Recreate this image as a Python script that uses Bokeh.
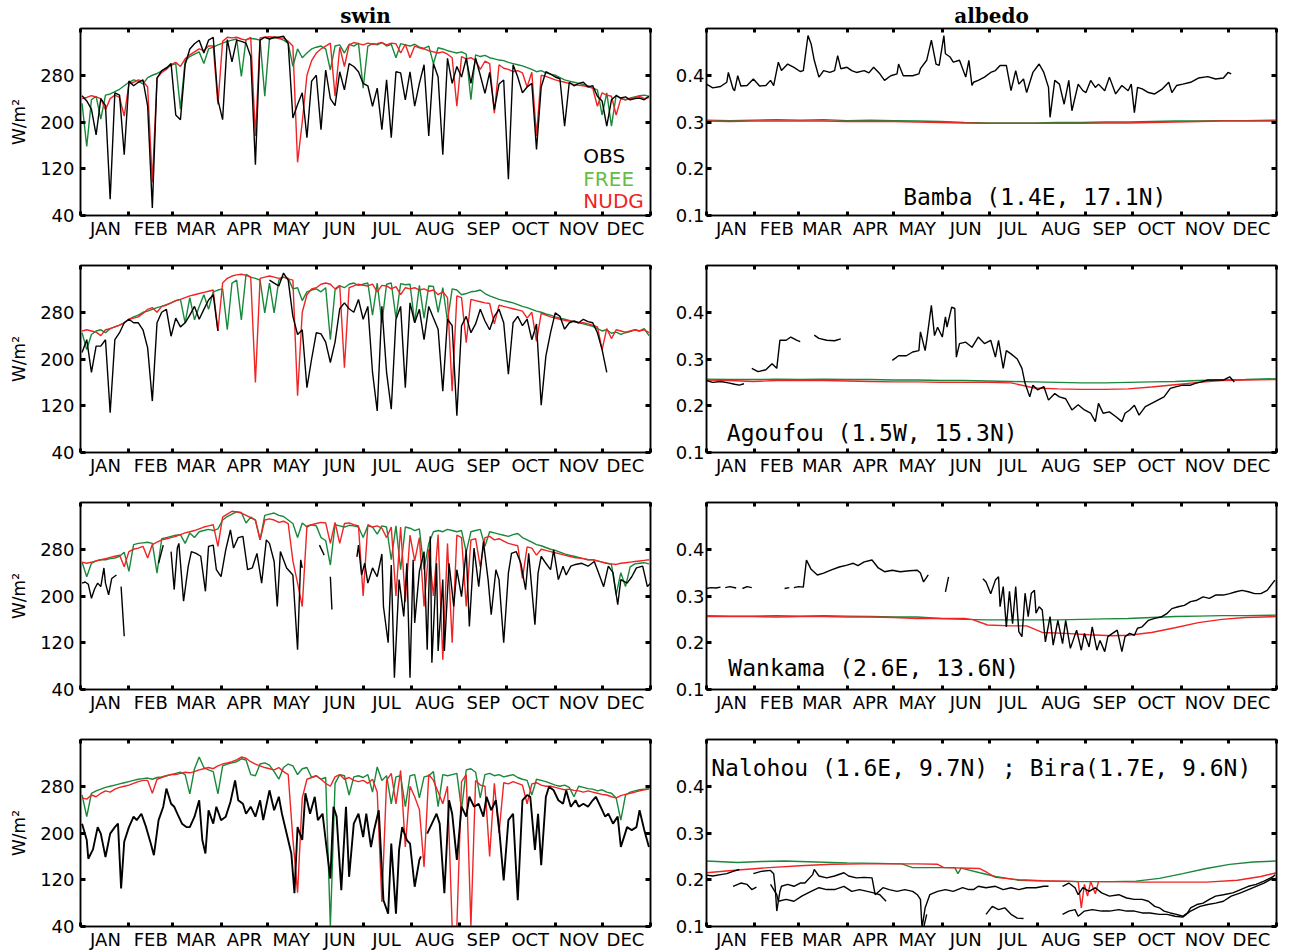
import numpy as np
from bokeh.plotting import figure
from bokeh.layouts import column, row
from bokeh.models import FixedTicker, LinearAxis, Range1d, PrintfTickFormatter
from bokeh.core.properties import value
from bokeh.embed import file_html
from bokeh.resources import INLINE

nan = float("nan")

# ---------------------------------------------------------------- calendar / ticks
MONTHS = ["JAN", "FEB", "MAR", "APR", "MAY", "JUN",
          "JUL", "AUG", "SEP", "OCT", "NOV", "DEC"]
MONTH_EDGES = [0, 31, 59, 90, 120, 151, 181, 212, 243, 273, 304, 334, 365]
MONTH_MIDS = [16, 45, 74, 105, 135, 166, 196, 227, 258, 288, 319, 349]
SWIN_TICKS = [40, 120, 200, 280]
ALBEDO_TICKS = [0.1, 0.2, 0.3, 0.4]

# every third day of the year (model output and some station series)
DAYS3 = list(range(1, 366, 3))

# ---------------------------------------------------------------- swin, Bamba
bamba_swin_obs = [
    245, 236, 222, 178, 240, 228, 68, 250, 246, 144,
    270, 262, 268, 272, 227, 53, 275, 288, 292, 300,
    212, 204, 298, 325, 334, 340, 318, 340, 345, 238,
    204, 341, 303, 340, 338, 335, 312, 127, 340, 345,
    342, 345, 345, 347, 334, 207, 230, 250, 173, 270,
    280, 187, 289, 240, 228, 286, 255, 300, 295, 286,
    266, 262, 227, 258, 187, 272, 173, 286, 284, 238,
    286, 227, 266, 298, 176, 300, 277, 144, 309, 266,
    295, 277, 309, 266, 309, 280, 249, 285, 221, 265,
    272, 102, 298, 277, 250, 260, 266, 153, 260, 286,
    282, 277, 274, 193, 268, 262, 266, 268, 260, 262,
    244, 236, 193, 238, 245, 241, 243, 238, 240, 241,
    238, 244]
bamba_swin_free = [
    232, 158, 238, 244, 205, 246, 248, 252, 256, 262,
    268, 272, 270, 265, 276, 280, 283, 287, 293, 297,
    300, 222, 305, 312, 316, 320, 300, 325, 328, 332,
    335, 338, 340, 342, 278, 341, 343, 342, 340, 244,
    342, 344, 343, 340, 335, 295, 325, 310, 318, 325,
    328, 330, 325, 289, 330, 332, 318, 333, 330, 335,
    258, 330, 334, 332, 336, 330, 333, 310, 334, 332,
    330, 333, 328, 326, 330, 300, 327, 325, 322, 320,
    318, 320, 316, 238, 315, 312, 314, 310, 308, 306,
    305, 302, 300, 298, 296, 293, 290, 286, 288, 284,
    282, 280, 276, 272, 270, 268, 266, 264, 262, 258,
    255, 212, 250, 193, 246, 240, 238, 241, 243, 245,
    246, 244]
bamba_swin_nudg = [
    240, 242, 245, 243, 240, 221, 240, 246, 242, 210,
    265, 268, 272, 270, 260, 97, 275, 285, 290, 298,
    302, 295, 308, 315, 320, 325, 322, 330, 330, 230,
    338, 345, 344, 345, 342, 340, 345, 176, 344, 345,
    346, 345, 343, 344, 338, 330, 131, 200, 280, 305,
    318, 325, 330, 335, 244, 328, 295, 332, 336, 334,
    332, 335, 333, 334, 336, 332, 335, 334, 318, 333,
    310, 330, 327, 325, 322, 320, 318, 320, 316, 310,
    227, 312, 308, 310, 305, 290, 304, 300, 215, 298,
    292, 290, 286, 288, 284, 260, 285, 176, 280, 278,
    275, 272, 270, 268, 266, 264, 263, 262, 260, 258,
    227, 250, 246, 244, 212, 240, 238, 240, 242, 244,
    240, 242]

# ---------------------------------------------------------------- swin, Agoufou
agoufou_swin_obs = [
    211, 233, 177, 222, 222, 233, 108, 233, 245, 262,
    268, 262, 262, 250, 219, 128, 262, 280, 285, 239,
    270, 255, 262, 275, 290, 268, 285, 301, 310, 248,
    nan, nan, nan, nan, nan, nan, nan, nan, nan, nan,
    335, 330, 325, 347, 335, 273, 242, 250, 151, 200,
    245, 243, 229, 194, 229, 286, 296, 286, 280, 302,
    268, 290, 177, 111, 290, 177, 114, 268, 290, 151,
    296, 262, 285, 233, 290, 270, 251, 145, 268, 257,
    103, 257, 273, 245, 260, 285, 265, 250, 273, 285,
    262, 174, 262, 273, 257, 268, 233, 260, 121, 205,
    245, 279, 273, 251, 262, 265, 262, 268, 264, 262,
    245, 216, 177, nan, nan, nan, nan, nan, nan, nan,
    nan, nan]
agoufou_swin_free = [
    245, 216, 242, 248, 250, 245, 252, 255, 258, 262,
    268, 272, 275, 280, 282, 285, 288, 290, 293, 296,
    300, 302, 262, 305, 267, 290, 310, 285, 315, 318,
    320, 250, 330, 335, 267, 345, 340, 338, 335, 279,
    330, 279, 335, 340, 338, 320, 322, 300, 315, 318,
    320, 315, 322, 233, 318, 325, 322, 328, 330, 326,
    328, 330, 275, 330, 262, 328, 330, 270, 329, 327,
    328, 262, 326, 270, 325, 324, 280, 322, 265, 320,
    318, 310, 312, 315, 316, 318, 312, 308, 305, 302,
    300, 298, 296, 293, 290, 288, 285, 282, 280, 277,
    275, 272, 270, 268, 266, 264, 262, 260, 258, 256,
    252, 248, 250, 244, 246, 242, 245, 247, 250, 248,
    252, 240]
agoufou_swin_nudg = [
    248, 250, 248, 246, 240, 250, 252, 255, 258, 262,
    268, 270, 272, 278, 285, 288, 280, 290, 292, 296,
    300, 302, 305, 308, 310, 312, 314, 316, 318, 248,
    330, 338, 342, 344, 345, 343, 340, 160, 338, 340,
    342, 340, 338, 340, 337, 335, 137, 280, 310, 320,
    322, 328, 330, 328, 320, 326, 185, 322, 325, 328,
    326, 325, 328, 315, 326, 325, 320, 324, 310, 322,
    320, 322, 318, 320, 316, 318, 310, 315, 305, 145,
    308, 305, 228, 302, 300, 298, 296, 295, 260, 292,
    290, 288, 286, 284, 282, 270, 280, 230, 278, 275,
    272, 270, 268, 266, 265, 264, 262, 262, 260, 258,
    255, 216, 252, 235, 250, 248, 246, 248, 250, 248,
    250, 245]

# ---------------------------------------------------------------- swin, Wankama
wankama_swin_obs = [
    (1, 222), (3, 224), (5, 220), (7, 196), (9, 212), (11, 222), (13, 216),
    (15, 248), (16, 222), (18, 202), (20, 230), (23, 236), (24, nan),
    (26, 216), (28, 131), (29, nan), (50, 256), (53, 287), (55, nan),
    (58, 276), (60, 211), (62, 282), (63, 290), (66, 191), (69, 251),
    (71, 276), (74, 273), (77, 268), (80, 208), (82, 285), (85, 287),
    (87, 245), (90, 233), (93, 279), (96, 313), (98, 282), (101, 300),
    (104, 302), (107, 245), (110, 248), (113, 273), (116, 222), (119, 296),
    (121, 290), (124, 259), (126, 182), (128, 276), (132, 248), (136, 236),
    (139, 108), (141, 262), (142, 248), (143, nan), (153, 287), (155, 276),
    (156, 270), (157, nan), (160, 233), (161, 177), (162, nan), (177, 267),
    (178, 287), (180, 236), (182, 256), (184, 222), (187, 248), (190, 233),
    (193, 272), (194, 182), (197, 120), (199, 253), (201, 60), (204, 228),
    (207, 165), (209, 256), (211, 60), (213, 262), (214, 154), (217, 242),
    (220, 276), (222, 108), (224, 302), (225, 86), (228, 256), (229, 106),
    (232, 228), (233, 106), (236, 256), (239, 182), (241, 245), (244, 199),
    (247, 279), (249, 148), (252, 282), (255, 216), (258, 293), (261, 228),
    (263, 168), (266, 245), (268, 228), (271, 120), (274, 239), (276, 273),
    (279, 276), (282, 256), (285, 211), (287, 273), (291, 151), (293, 239),
    (295, 268), (298, 256), (301, 245), (303, 279), (306, 228), (309, 251),
    (311, 236), (314, 251), (317, 254), (321, 256), (325, 251), (329, 259),
    (331, 245), (335, 216), (338, 251), (341, 240), (344, 185), (346, 228),
    (350, 222), (353, 233), (356, 248), (360, 251), (363, 216), (365, 222)]
wankama_swin_free = [
    258, 233, 256, 260, 262, 262, 264, 265, 268, 275,
    242, 288, 290, 291, 292, 290, 239, 298, 300, 302,
    304, 305, 290, 308, 300, 310, 312, 314, 312, 315,
    330, 336, 340, 344, 343, 325, 335, 330, 296, 338,
    340, 342, 338, 336, 330, 324, 300, 325, 318, 322,
    320, 300, 295, 253, 322, 320, 318, 321, 320, 318,
    300, 320, 318, 306, 320, 318, 262, 320, 245, 318,
    316, 312, 315, 245, 290, 310, 312, 310, 314, 312,
    310, 312, 275, 310, 312, 314, 285, 310, 308, 306,
    304, 302, 305, 307, 300, 296, 292, 288, 286, 283,
    280, 278, 275, 272, 270, 268, 266, 264, 262, 262,
    260, 258, 256, 254, 202, 240, 216, 250, 255, 256,
    257, 255]
wankama_swin_nudg = [
    258, 256, 258, 260, 262, 264, 266, 268, 270, 250,
    276, 280, 282, 285, 265, 288, 292, 296, 298, 300,
    302, 305, 308, 310, 312, 315, 318, 320, 322, 285,
    335, 340, 345, 344, 342, 338, 334, 330, 296, 330,
    332, 330, 326, 328, 324, 260, 222, 182, 320, 322,
    324, 326, 325, 290, 326, 290, 324, 325, 322, 320,
    200, 322, 318, 320, 316, 300, 318, 200, 318, 190,
    304, 260, 300, 182, 280, 200, 305, 91, 290, 120,
    304, 300, 182, 296, 298, 250, 300, 302, 296, 298,
    294, 290, 288, 286, 230, 284, 282, 270, 280, 278,
    276, 274, 272, 270, 268, 266, 265, 264, 262, 262,
    260, 258, 256, 255, 254, 256, 257, 258, 259, 260,
    261, 262]

# ---------------------------------------------------------------- swin, Nalohou / Bira
nalohou_swin_obs = [
    (1, 216), (4, 188), (5, 156), (8, 172), (11, 210), (13, 199), (16, 159),
    (19, 199), (22, 210), (24, 216), (26, 105), (28, 185), (31, 210),
    (34, 228), (36, 222), (39, 233), (42, 210), (45, 182), (47, 162),
    (50, 222), (53, 245), (55, 276), (58, 250), (60, 245), (62, 233),
    (65, 216), (68, 210), (70, 210), (73, 228), (76, 256), (78, 188),
    (80, 165), (82, 239), (85, 216), (87, 245), (90, 222), (93, 228),
    (96, 253), (99, 290), (101, 256), (104, 250), (106, 233), (109, 245),
    (112, 228), (115, 256), (117, 222), (121, 273), (124, 239), (127, 262),
    (129, 233), (132, 199), (135, 165), (137, 97), (139, 210), (142, 188),
    (144, 268), (147, 233), (150, 262), (152, 222), (155, 233), (158, 165),
    (160, 122), (162, 245), (164, 228), (167, 102), (170, 245), (172, 125),
    (175, 216), (178, 233), (181, 193), (183, 233), (186, 176), (188, 205),
    (191, 239), (194, 85), (197, 62), (199, 182), (202, 62), (204, 171),
    (206, 210), (209, 188), (211, 182), (214, 108), (217, 154), (218, 160),
    (220, nan), (222, 199), (225, 216), (228, 233), (230, 216), (233, 97),
    (236, 256), (238, 233), (241, 154), (244, 245), (247, 228), (249, 262),
    (252, 245), (255, 250), (258, 228), (260, 262), (263, 239), (266, 256),
    (268, 210), (271, 119), (274, 222), (277, 233), (280, 85), (283, 256),
    (286, 265), (288, 262), (291, 171), (293, 233), (295, 145), (298, 262),
    (300, 279), (303, 273), (306, 256), (309, 250), (311, 273), (314, 245),
    (317, 256), (319, 245), (322, 250), (325, 245), (328, 256), (330, 262),
    (333, 245), (336, 228), (338, 233), (341, 216), (344, 228), (346, 176),
    (348, 193), (350, 210), (353, 205), (356, 210), (358, 239), (361, 205),
    (364, 176)]
nalohou_swin_free = [
    265, 228, 268, 272, 275, 278, 280, 282, 284, 286,
    288, 290, 292, 293, 294, 292, 295, 296, 298, 300,
    302, 304, 300, 267, 310, 330, 312, 308, 305, 267,
    315, 318, 320, 322, 327, 325, 300, 298, 318, 320,
    316, 305, 292, 312, 318, 315, 300, 310, 312, 295,
    298, 292, 295, 40, 285, 300, 298, 265, 296, 298,
    295, 300, 270, 313, 290, 298, 250, 296, 298, 245,
    298, 300, 260, 296, 298, 305, 245, 300, 298, 300,
    302, 240, 308, 310, 304, 260, 300, 302, 298, 300,
    296, 298, 300, 295, 292, 290, 265, 292, 290, 288,
    285, 282, 280, 282, 278, 262, 280, 278, 276, 275,
    272, 274, 270, 268, 260, 222, 265, 270, 272, 274,
    275, 276]
nalohou_swin_nudg = [
    260, 258, 265, 262, 268, 272, 270, 275, 278, 280,
    282, 285, 288, 290, 290, 268, 292, 295, 298, 300,
    300, 302, 304, 303, 305, 308, 310, 312, 310, 315,
    318, 320, 322, 325, 330, 328, 322, 318, 315, 312,
    310, 308, 312, 305, 300, 190, 98, 260, 292, 295,
    298, 292, 285, 280, 296, 300, 292, 295, 290, 288,
    290, 285, 292, 270, 82, 290, 302, 250, 307, 176,
    280, 262, 240, 142, 300, 290, 270, 250, 280, 40,
    40, 288, 300, 40, 290, 282, 280, 160, 285, 200,
    286, 284, 288, 285, 282, 250, 284, 286, 282, 280,
    280, 278, 276, 274, 275, 273, 272, 270, 272, 270,
    268, 266, 265, 262, 260, 264, 266, 268, 270, 272,
    274, 275]

# ---------------------------------------------------------------- albedo, models
ALB_DAYS = [0, 15, 30, 45, 60, 75, 90, 105, 120, 135, 150, 165, 180,
            195, 210, 225, 240, 255, 270, 285, 300, 315, 330, 345, 365]
bamba_alb_free = [0.304, 0.303, 0.304, 0.305, 0.304, 0.305, 0.303, 0.304, 0.303,
                  0.302, 0.301, 0.299, 0.298, 0.298, 0.298, 0.299, 0.299, 0.300,
                  0.300, 0.301, 0.302, 0.302, 0.303, 0.303, 0.304]
bamba_alb_nudg = [0.302, 0.301, 0.302, 0.302, 0.302, 0.302, 0.301, 0.301, 0.301,
                  0.300, 0.299, 0.298, 0.297, 0.297, 0.297, 0.297, 0.297, 0.298,
                  0.298, 0.299, 0.300, 0.301, 0.302, 0.302, 0.302]
agoufou_alb_free = [0.257, 0.256, 0.256, 0.257, 0.256, 0.257, 0.256, 0.256, 0.255,
                    0.255, 0.254, 0.254, 0.253, 0.252, 0.251, 0.250, 0.249, 0.249,
                    0.250, 0.251, 0.252, 0.254, 0.255, 0.256, 0.258]
agoufou_alb_nudg = [0.255, 0.254, 0.252, 0.254, 0.254, 0.254, 0.253, 0.252, 0.251,
                    0.251, 0.250, 0.250, 0.250, 0.249, 0.238, 0.236, 0.235, 0.235,
                    0.236, 0.240, 0.245, 0.250, 0.254, 0.255, 0.256]
wankama_alb_free = [0.258, 0.257, 0.257, 0.258, 0.257, 0.258, 0.257, 0.256, 0.255,
                    0.255, 0.252, 0.250, 0.249, 0.249, 0.249, 0.249, 0.250, 0.251,
                    0.252, 0.254, 0.256, 0.257, 0.258, 0.258, 0.259]
wankama_alb_nudg = [(0, 0.256), (15, 0.256), (30, 0.256), (45, 0.255), (60, 0.256),
                    (75, 0.256), (90, 0.255), (105, 0.255), (120, 0.254), (135, 0.252),
                    (150, 0.252), (165, 0.252), (170, 0.250), (180, 0.238), (195, 0.236),
                    (205, 0.236), (215, 0.222), (230, 0.220), (245, 0.217), (260, 0.215),
                    (270, 0.216), (285, 0.222), (300, 0.232), (315, 0.243), (330, 0.250),
                    (345, 0.254), (365, 0.256)]
nalohou_alb_free = [(0, 0.240), (20, 0.237), (35, 0.239), (50, 0.240), (70, 0.238),
                    (90, 0.236), (110, 0.235), (125, 0.234), (132, 0.226), (150, 0.226),
                    (159, 0.226), (161, 0.213), (163, 0.225), (175, 0.215), (185, 0.207),
                    (200, 0.199), (220, 0.197), (240, 0.196), (260, 0.196), (275, 0.197),
                    (290, 0.203), (305, 0.213), (320, 0.224), (335, 0.233), (350, 0.238),
                    (365, 0.240)]
nalohou_alb_nudg = [(0, 0.215), (20, 0.221), (40, 0.226), (60, 0.230), (80, 0.233),
                    (100, 0.234), (120, 0.234), (135, 0.234), (148, 0.233), (152, 0.226),
                    (175, 0.224), (180, 0.215), (185, 0.205), (200, 0.200), (215, 0.198),
                    (230, 0.197), (238, 0.196), (240, 0.140), (242, 0.190), (244, 0.165),
                    (246, 0.196), (249, 0.170), (251, 0.196), (260, 0.196), (280, 0.195),
                    (300, 0.195), (320, 0.195), (340, 0.199), (355, 0.207), (365, 0.215)]

# ---------------------------------------------------------------- albedo, stations
bamba_alb_obs = [
    (0, 0.381), (4, 0.373), (9, 0.376), (13, 0.385), (14, 0.406), (17, 0.371),
    (18, 0.367), (20, 0.399), (22, 0.377), (26, 0.378), (30, 0.392), (34, 0.377),
    (38, 0.378), (41, 0.389), (43, 0.378), (46, 0.428), (48, 0.410), (52, 0.424),
    (56, 0.417), (60, 0.408), (62, 0.410), (65, 0.485), (67, 0.467), (69, 0.432),
    (72, 0.396), (75, 0.410), (79, 0.406), (82, 0.410), (84, 0.442), (86, 0.414),
    (90, 0.417), (93, 0.410), (96, 0.406), (101, 0.410), (104, 0.405), (107, 0.417),
    (111, 0.403), (114, 0.389), (118, 0.399), (122, 0.403), (123, 0.424), (126, 0.399),
    (132, 0.399), (136, 0.403), (137, 0.414), (141, 0.432), (144, 0.475), (147, 0.424),
    (149, 0.421), (152, 0.485), (153, 0.446), (156, 0.439), (158, 0.428), (162, 0.432),
    (166, 0.396), (168, 0.432), (170, 0.378), (171, 0.385), (174, 0.389), (178, 0.396),
    (182, 0.406), (185, 0.410), (188, 0.421), (192, 0.421), (195, 0.367), (198, 0.410),
    (200, 0.381), (203, 0.392), (205, 0.363), (209, 0.406), (213, 0.424), (216, 0.406),
    (219, 0.374), (220, 0.310), (223, 0.389), (226, 0.381), (229, 0.338), (232, 0.389),
    (234, 0.324), (238, 0.381), (241, 0.367), (243, 0.363), (246, 0.389), (249, 0.374),
    (251, 0.381), (255, 0.367), (258, 0.396), (262, 0.360), (266, 0.378), (270, 0.367),
    (272, 0.381), (274, 0.320), (276, 0.374), (279, 0.371), (283, 0.363), (287, 0.360),
    (292, 0.371), (296, 0.385), (298, 0.363), (301, 0.378), (305, 0.381), (310, 0.385),
    (315, 0.394), (321, 0.397), (326, 0.392), (331, 0.394), (334, 0.406), (336, 0.403)]
agoufou_alb_obs = [
    (0, 0.254), (4, 0.250), (9, 0.252), (14, 0.249), (18, 0.246), (21, 0.244),
    (24, 0.247), (26, nan), (29, 0.280), (33, 0.273), (38, 0.277), (42, 0.290),
    (45, 0.280), (47, 0.340), (51, 0.340), (54, 0.347), (58, 0.340), (60, 0.337),
    (63, nan), (69, 0.351), (72, 0.344), (77, 0.340), (82, 0.339), (86, 0.343),
    (90, nan), (119, 0.297), (123, 0.307), (128, 0.307), (132, 0.315), (136, 0.318),
    (137, 0.358), (140, 0.318), (141, 0.340), (144, 0.415), (146, 0.350), (148, 0.368),
    (151, 0.347), (153, 0.390), (154, 0.368), (157, 0.411), (159, 0.408), (160, 0.304),
    (162, 0.333), (166, 0.336), (170, 0.325), (174, 0.347), (178, 0.333), (182, 0.340),
    (185, 0.304), (187, 0.340), (190, 0.280), (192, 0.318), (195, 0.311), (199, 0.300),
    (202, 0.280), (204, 0.248), (207, 0.219), (209, 0.244), (212, 0.234), (216, 0.241),
    (219, 0.212), (223, 0.226), (226, 0.219), (230, 0.215), (234, 0.191), (238, 0.202),
    (242, 0.191), (246, 0.184), (249, 0.166), (251, 0.205), (254, 0.184), (258, 0.187),
    (262, 0.177), (266, 0.166), (268, 0.184), (271, 0.191), (274, 0.201), (277, 0.180),
    (281, 0.198), (285, 0.205), (289, 0.212), (293, 0.219), (297, 0.237), (301, 0.241),
    (305, 0.244), (310, 0.244), (313, 0.248), (317, 0.251), (321, 0.255), (327, 0.255),
    (331, 0.255), (335, 0.262), (338, 0.251)]
wankama_alb_obs = [
    (0, 0.316), (3, 0.318), (6, 0.317), (9, 0.319), (10, nan), (12, 0.318),
    (15, 0.320), (19, 0.317), (20, nan), (23, 0.316), (26, 0.320), (29, 0.318),
    (31, nan), (50, 0.316), (53, 0.318), (55, nan), (56, 0.318), (59, 0.320),
    (62, 0.319), (64, 0.377), (67, 0.357), (71, 0.345), (75, 0.349), (80, 0.356),
    (85, 0.362), (90, 0.366), (94, 0.370), (97, 0.365), (101, 0.373), (106, 0.377),
    (110, 0.360), (114, 0.352), (119, 0.355), (124, 0.352), (130, 0.354), (135, 0.355),
    (137, 0.349), (139, 0.330), (142, 0.345), (143, nan), (153, 0.309), (155, 0.341),
    (156, nan), (177, 0.337), (179, 0.330), (182, 0.305), (185, 0.334), (187, 0.341),
    (188, 0.277), (190, 0.320), (192, 0.234), (194, 0.310), (196, 0.241), (198, 0.320),
    (200, 0.224), (202, 0.213), (204, 0.306), (206, 0.256), (208, 0.306), (210, 0.312),
    (211, 0.263), (213, 0.277), (215, 0.270), (217, 0.202), (220, 0.256), (222, 0.195),
    (225, 0.248), (228, 0.198), (230, 0.248), (233, 0.188), (237, 0.227), (240, 0.184),
    (242, 0.220), (245, 0.191), (247, 0.234), (250, 0.184), (252, 0.205), (255, 0.181),
    (257, 0.213), (260, 0.220), (263, 0.227), (266, 0.181), (268, 0.213), (271, 0.220),
    (274, 0.216), (276, 0.231), (279, 0.234), (283, 0.248), (287, 0.252), (291, 0.255),
    (295, 0.263), (298, 0.273), (302, 0.277), (306, 0.280), (310, 0.288), (314, 0.291),
    (318, 0.298), (322, 0.295), (326, 0.302), (331, 0.302), (335, 0.305), (339, 0.309),
    (343, 0.312), (347, 0.309), (351, 0.305), (355, 0.305), (359, 0.312), (364, 0.334)]
nalohou_alb_obs = [
    (0, 0.210), (4, 0.208), (9, 0.211), (13, 0.213), (17, 0.218), (21, 0.222),
    (23, nan), (30, 0.213), (35, 0.218), (41, 0.220), (43, 0.213), (44, 0.183),
    (45, 0.133), (47, 0.175), (48, 0.186), (52, 0.190), (56, 0.186), (60, 0.193),
    (63, 0.193), (68, 0.211), (69, 0.222), (72, 0.208), (77, 0.204), (82, 0.208),
    (88, 0.215), (91, 0.208), (96, 0.204), (101, 0.205), (106, 0.204), (108, 0.168),
    (113, 0.183), (117, 0.179), (122, 0.175), (127, 0.179), (132, 0.175), (135, 0.168),
    (137, 0.158), (138, 0.097), (140, 0.140), (143, 0.168), (148, 0.175), (153, 0.179),
    (158, 0.175), (164, 0.183), (168, 0.179), (171, 0.179), (174, 0.186), (179, 0.183),
    (185, 0.186), (190, 0.179), (195, 0.183), (200, 0.179), (205, 0.183), (211, 0.183),
    (216, 0.186), (219, 0.186), (222, nan), (228, 0.186), (232, 0.193), (236, 0.183),
    (238, 0.168), (241, 0.183), (245, 0.175), (249, 0.183), (253, 0.172), (258, 0.165),
    (264, 0.168), (269, 0.161), (274, 0.158), (279, 0.158), (283, 0.154), (287, 0.143),
    (290, 0.140), (293, 0.133), (297, 0.129), (301, 0.126), (305, 0.122), (308, 0.129),
    (310, 0.140), (314, 0.147), (318, 0.150), (322, 0.158), (326, 0.165), (331, 0.168),
    (337, 0.172), (342, 0.179), (347, 0.186), (352, 0.190), (357, 0.197), (363, 0.207),
    (364, 0.211)]
bira_alb_obs = [
    (17, 0.186), (22, 0.193), (26, 0.190), (29, 0.179), (32, 0.184), (33, nan),
    (41, 0.190), (45, 0.168), (46, 0.154), (51, 0.158), (56, 0.154), (61, 0.165),
    (67, 0.175), (72, 0.183), (77, 0.179), (82, 0.179), (88, 0.186), (93, 0.175),
    (98, 0.179), (103, 0.175), (107, 0.172), (111, 0.168), (115, 0.154), (116, nan),
    (139, 0.097), (141, 0.126), (142, nan), (179, 0.126), (183, 0.143), (187, 0.136),
    (191, 0.140), (195, 0.126), (199, 0.118), (203, 0.117), (204, nan), (228, 0.126),
    (232, 0.133), (236, 0.136), (238, 0.122), (242, 0.133), (247, 0.136), (253, 0.133),
    (258, 0.133), (264, 0.136), (269, 0.133), (274, 0.133), (279, 0.129), (284, 0.129),
    (290, 0.126), (295, 0.126), (300, 0.122), (305, 0.120), (310, 0.133), (316, 0.143),
    (321, 0.147), (326, 0.150), (331, 0.154), (336, 0.165), (342, 0.172), (347, 0.179),
    (352, 0.186), (357, 0.193), (363, 0.204)]

SITE_LABELS = ["Bamba (1.4E, 17.1N)", "Agoufou (1.5W, 15.3N)",
               "Wankama (2.6E, 13.6N)", "Nalohou (1.6E, 9.7N) ; Bira(1.7E, 9.6N)"]
LEGEND_NAMES = ["OBS", "FREE", "NUDG"]

OBS_COLOR = "#000000"
FREE_COLOR = "#18883a"
NUDG_COLOR = "#f02424"
FREE_TEXT_COLOR = "#66bd44"

TICK_FONT = "DejaVu Sans"
MONO_FONT = "DejaVu Sans Mono"


def split(pairs):
    d, v = zip(*pairs)
    return np.array(d, dtype=float), np.array(v, dtype=float)


def grid(vals):
    return np.array(DAYS3, dtype=float), np.array(vals, dtype=float)


def make_panel(kind, row_idx, title=None):
    left = kind == "swin"
    top = 28 if row_idx == 0 else 22
    bottom = 26 if row_idx == 3 else 28
    p = figure(width=666 if left else 626, height=top + 187 + bottom,
               x_range=Range1d(0, 365),
               y_range=Range1d(40, 360) if left else Range1d(0.1, 0.5),
               x_axis_type=None, y_axis_type=None, tools="",
               toolbar_location=None, output_backend="svg", title=title,
               min_border_left=80 if left else 40, min_border_right=16,
               min_border_top=top, min_border_bottom=bottom)
    p.outline_line_color = "black"
    p.outline_line_width = 1.5
    p.background_fill_color = "white"
    p.border_fill_color = "white"
    if title:
        p.title.align = "center"
        p.title.text_font = "DejaVu Serif"
        p.title.text_font_style = "bold"
        p.title.text_font_size = "20px"
        p.title.text_color = "black"
        p.title.standoff = 2
        p.title.offset = 0

    # month names under the frame, month boundaries as inward ticks
    xb = LinearAxis(ticker=FixedTicker(ticks=MONTH_MIDS, minor_ticks=MONTH_EDGES))
    xb.major_label_overrides = {m: n for m, n in zip(MONTH_MIDS, MONTHS)}
    xb.major_tick_in = 0
    xb.major_tick_out = 0
    xb.minor_tick_in = 4
    xb.minor_tick_out = 0
    xb.minor_tick_line_width = 3
    xb.minor_tick_line_color = "black"
    xb.major_label_standoff = 2
    xb.major_label_text_font = TICK_FONT
    xb.major_label_text_font_size = "18px"
    xb.major_label_text_color = "black"
    xb.axis_line_color = "black"
    xb.axis_line_width = 1.5
    p.add_layout(xb, "below")

    xt = LinearAxis(ticker=FixedTicker(ticks=[], minor_ticks=MONTH_EDGES))
    xt.minor_tick_in = 4
    xt.minor_tick_out = 0
    xt.minor_tick_line_width = 3
    xt.major_label_text_font_size = "0px"
    xt.major_label_standoff = 0
    xt.axis_line_color = "black"
    xt.axis_line_width = 1.5
    p.add_layout(xt, "above")

    yticks = SWIN_TICKS if left else ALBEDO_TICKS
    yl = LinearAxis(ticker=FixedTicker(ticks=yticks),
                    formatter=PrintfTickFormatter(format="%d" if left else "%.1f"))
    yl.major_tick_in = 5
    yl.major_tick_out = 0
    yl.major_tick_line_width = 3
    yl.minor_tick_line_color = None
    yl.major_label_standoff = 6 if left else 2
    yl.major_label_text_font = TICK_FONT
    yl.major_label_text_font_size = "18px"
    yl.major_label_text_color = "black"
    yl.axis_line_color = "black"
    yl.axis_line_width = 1.5
    if left:
        yl.axis_label = "W/m²"
        yl.axis_label_text_font = TICK_FONT
        yl.axis_label_text_font_style = "normal"
        yl.axis_label_text_font_size = "17px"
        yl.axis_label_text_color = "black"
        yl.axis_label_standoff = 8
    p.add_layout(yl, "left")

    yr = LinearAxis(ticker=FixedTicker(ticks=[], minor_ticks=yticks))
    yr.minor_tick_in = 5
    yr.minor_tick_out = 0
    yr.minor_tick_line_width = 3
    yr.major_label_text_font_size = "0px"
    yr.major_label_standoff = 0
    yr.axis_line_color = "black"
    yr.axis_line_width = 1.5
    p.add_layout(yr, "right")
    return p


def draw(p, free, nudg, obs_list, obs_width=1.4):
    p.line(*free, line_color=FREE_COLOR, line_width=1.4)
    p.line(*nudg, line_color=NUDG_COLOR, line_width=1.4)
    for obs in obs_list:
        p.line(*obs, line_color=OBS_COLOR, line_width=obs_width)


def site_label(p, x, y, text):
    p.text(x=[x], y=[y], text=[text], text_font=value(MONO_FONT),
           text_font_size="23px", text_color="black",
           text_align="left", text_baseline="middle")


# row 1: Bamba
s1 = make_panel("swin", 0, "swin")
draw(s1, grid(bamba_swin_free), grid(bamba_swin_nudg), [grid(bamba_swin_obs)])
s1.text(x=[322, 322, 322], y=[141, 102, 64], text=LEGEND_NAMES,
        text_color=[OBS_COLOR, FREE_TEXT_COLOR, NUDG_COLOR],
        text_font=value(TICK_FONT), text_font_size="20px",
        text_align="left", text_baseline="middle")
a1 = make_panel("albedo", 0, "albedo")
draw(a1, (ALB_DAYS, bamba_alb_free), (ALB_DAYS, bamba_alb_nudg), [split(bamba_alb_obs)])
site_label(a1, 126, 0.139, SITE_LABELS[0])

# row 2: Agoufou
s2 = make_panel("swin", 1)
draw(s2, grid(agoufou_swin_free), grid(agoufou_swin_nudg), [grid(agoufou_swin_obs)])
a2 = make_panel("albedo", 1)
draw(a2, (ALB_DAYS, agoufou_alb_free), (ALB_DAYS, agoufou_alb_nudg), [split(agoufou_alb_obs)])
site_label(a2, 13, 0.141, SITE_LABELS[1])

# row 3: Wankama
s3 = make_panel("swin", 2)
draw(s3, grid(wankama_swin_free), grid(wankama_swin_nudg), [split(wankama_swin_obs)])
a3 = make_panel("albedo", 2)
draw(a3, (ALB_DAYS, wankama_alb_free), split(wankama_alb_nudg), [split(wankama_alb_obs)])
site_label(a3, 14, 0.145, SITE_LABELS[2])

# row 4: Nalohou / Bira
s4 = make_panel("swin", 3)
draw(s4, grid(nalohou_swin_free), grid(nalohou_swin_nudg), [split(nalohou_swin_obs)],
     obs_width=1.9)
a4 = make_panel("albedo", 3)
draw(a4, split(nalohou_alb_free), split(nalohou_alb_nudg),
     [split(nalohou_alb_obs), split(bira_alb_obs)])
site_label(a4, 3, 0.438, SITE_LABELS[3])

layout = column(row(s1, a1), row(s2, a2), row(s3, a3), row(s4, a4))

open("out.html", "w").write(file_html(layout, INLINE))
